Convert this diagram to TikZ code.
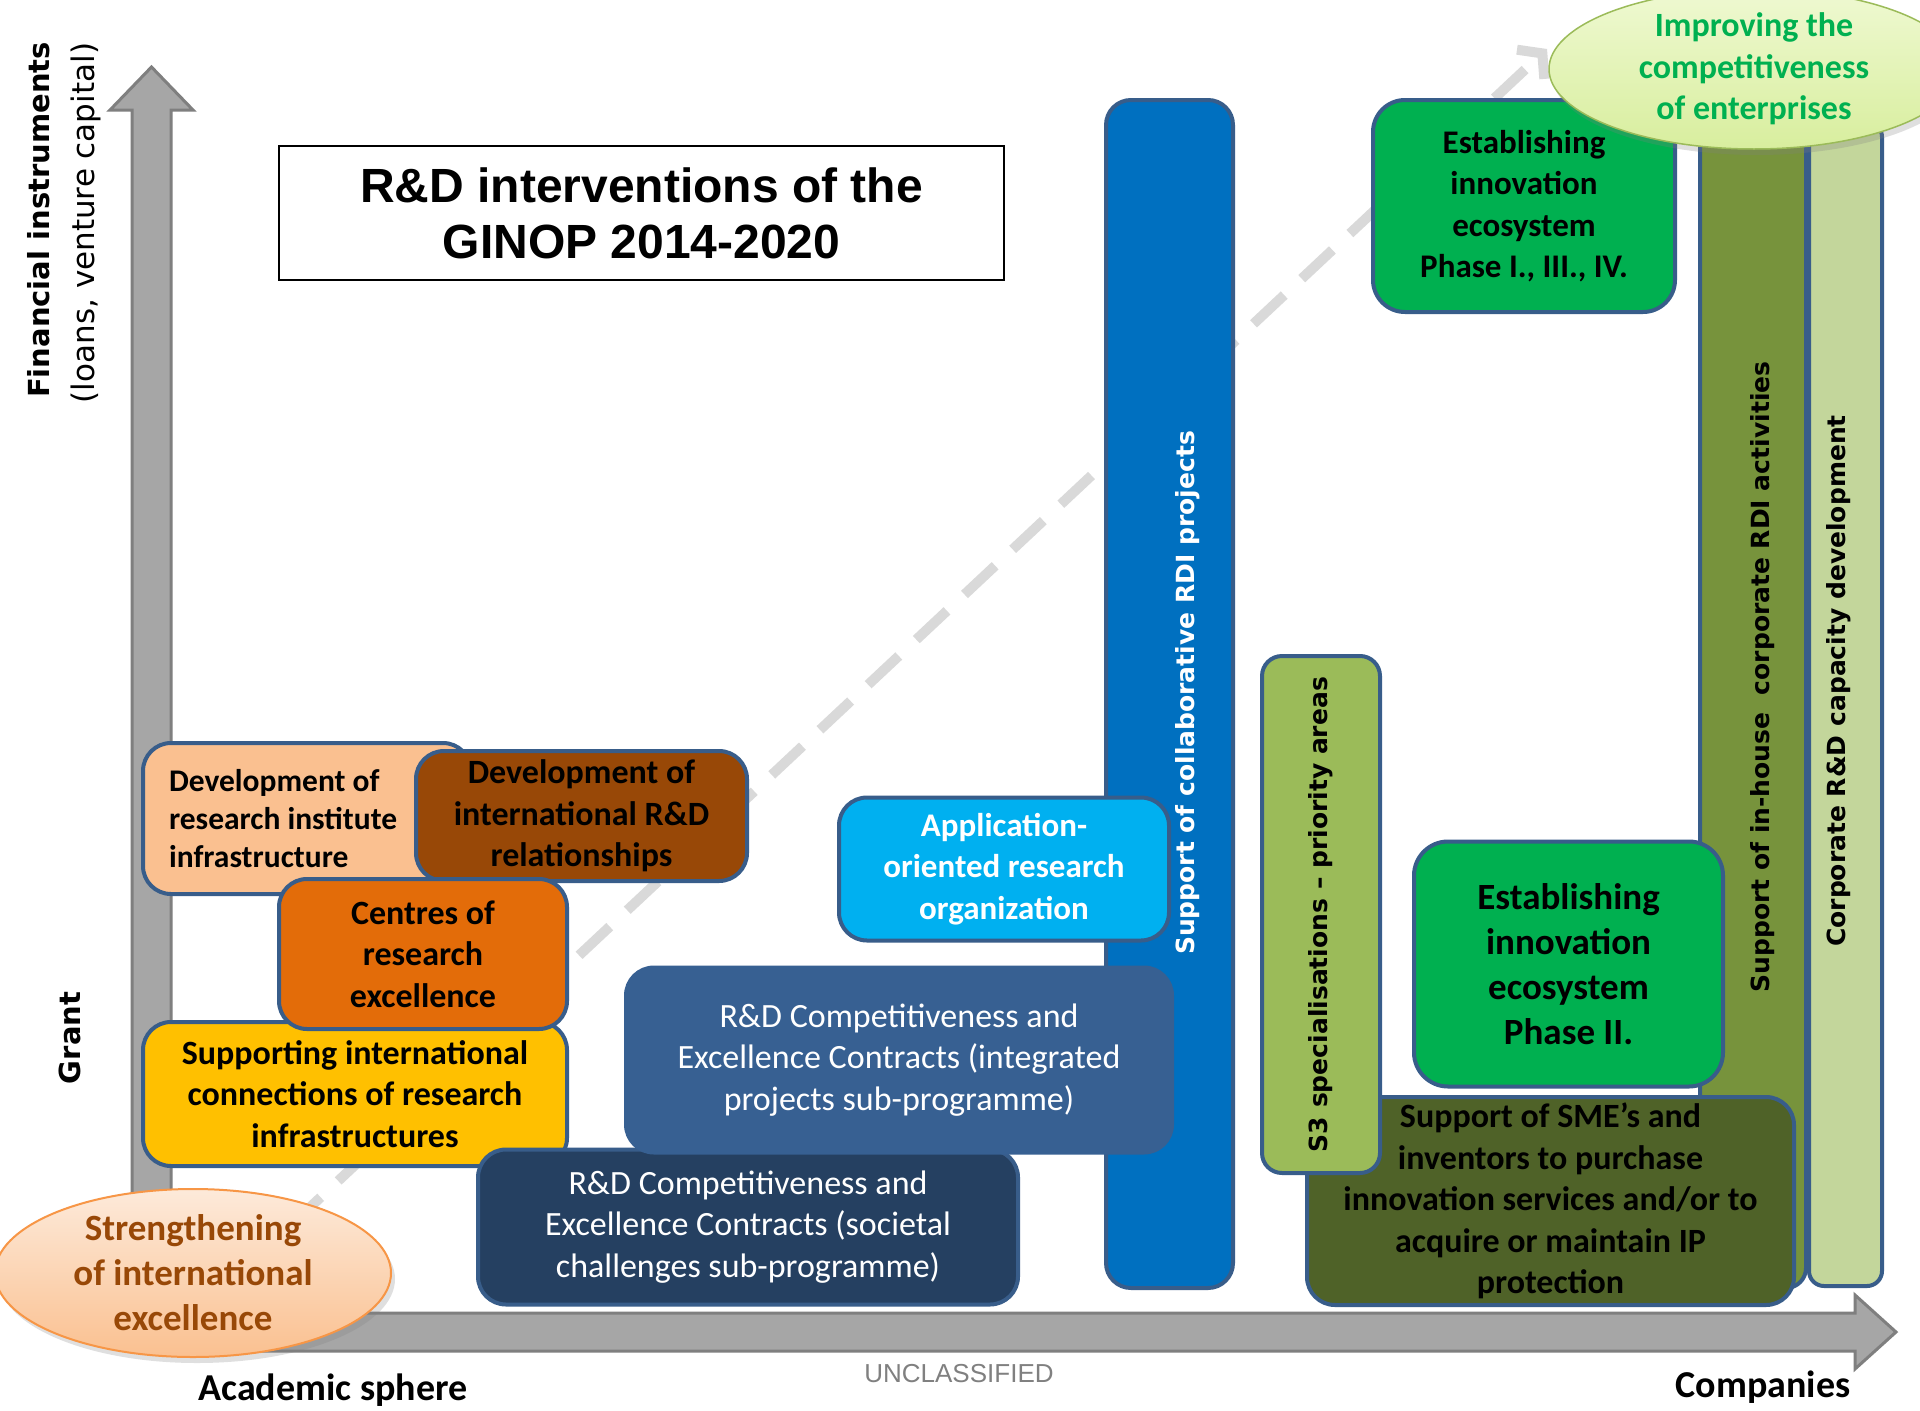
\documentclass[tikz,border=0pt]{standalone}
\usepackage{fontspec}
\setmainfont{Carlito}
\newfontfamily\arialf{Liberation Sans}
\newfontfamily\verd{DejaVu Sans}
\usetikzlibrary{arrows.meta,shapes.geometric,shadows}
\definecolor{bordc}{HTML}{385D8A}
\definecolor{peach}{HTML}{FAC090}
\definecolor{brownc}{HTML}{984807}
\definecolor{orangec}{HTML}{E36C09}
\definecolor{yellowc}{HTML}{FFC000}
\definecolor{integ}{HTML}{376092}
\definecolor{navyc}{HTML}{254061}
\definecolor{appc}{HTML}{00B0F0}
\definecolor{bluebar}{HTML}{0070C0}
\definecolor{sthree}{HTML}{9BBB59}
\definecolor{greenc}{HTML}{00B050}
\definecolor{smec}{HTML}{4F6228}
\definecolor{inhouse}{HTML}{77933C}
\definecolor{corpc}{HTML}{C3D69B}
\definecolor{axisfill}{HTML}{A6A6A6}
\definecolor{axisdraw}{HTML}{7F7F7F}
\definecolor{dashc}{HTML}{D9D9D9}
\definecolor{elltop}{HTML}{FDEADA}
\definecolor{ellbot}{HTML}{FAC090}
\definecolor{ellbord}{HTML}{F79646}
\definecolor{gtop}{HTML}{EFF9D2}
\definecolor{gbot}{HTML}{D8EE9E}
\definecolor{uncl}{HTML}{808080}
\begin{document}
\begin{tikzpicture}[x=1pt,y=-1pt,
  box/.style={draw=bordc, line width=4pt, rounded corners=28pt, align=center, inner sep=0pt, text=black},
  fa/.style={font=\fontsize{34}{41.5}\selectfont\bfseries},
  fn/.style={font=\fontsize{34}{41.5}\selectfont},
  rot/.style={rotate=90, inner sep=0pt, font=\verd\fontsize{25}{30}\selectfont\bfseries},
  axlab/.style={rotate=90, inner sep=0pt, font=\verd\fontsize{31}{36}\selectfont},
  bottomlab/.style={inner sep=0pt, font=\fontsize{38}{45}\selectfont\bfseries}]
\useasboundingbox[fill=white] (0,0) rectangle (1920,1411);

% axes
\filldraw[fill=axisfill, draw=axisdraw, line width=3pt, line join=miter]
  (132,1351) -- (132,110) -- (110,110) -- (151.5,67) -- (193,110) -- (171,110) -- (171,1313)
  -- (1855,1313) -- (1855,1295) -- (1896,1332) -- (1855,1369) -- (1855,1351) -- cycle;

% dashed trend arrow
\coordinate (dstart) at (290,1226);
\coordinate (dend) at (1547,49);
\draw[dashc, line width=10pt, dash pattern=on 42pt off 24pt, -{Straight Barb[length=16pt,width=40pt]}] (dstart) -- (dend);

% title
\node[draw=black, line width=2pt, minimum width=725pt, minimum height=134pt, align=center, inner sep=0pt,
  font=\arialf\fontsize{48}{56}\selectfont\bfseries] (title) at (641.5,213) {R\&D interventions of the\\GINOP 2014-2020};

% tall bars
\node[box, fill=bluebar, rounded corners=25pt, minimum width=127pt, minimum height=1188pt] (collab) at (1169.5,694) {};
\node[box, fill=inhouse, rounded corners=20pt, minimum width=106pt, minimum height=1166pt] (inh) at (1753,705) {};
\node[box, fill=corpc, rounded corners=15pt, minimum width=73pt, minimum height=1164pt] (corp) at (1845.5,704) {};
\node[rot, text=white] (collabT) at (1188,693) {Support of collaborative RDI projects};
\node[rot] (inhT) at (1763,677) {Support of in-house\ \ corporate RDI activities};
\node[rot] (corpT) at (1839,681) {Corporate R\&D capacity development};

% phase I box and ellipse
\node[box, fill=greenc, rounded corners=32pt, minimum width=302pt, minimum height=212pt, font=\fontsize{33}{41.5}\selectfont\bfseries] (ph1) at (1524,206)
  {Establishing\\innovation\\ecosystem\\Phase I., III., IV.};
\node[ellipse, draw=sthree, line width=1.5pt, top color=gtop, bottom color=gbot, minimum width=410pt, minimum height=160pt, inner sep=0pt,
  align=center, text=greenc, font=\fontsize{34}{41.5}\selectfont\bfseries,
  drop shadow={opacity=0.25, shadow xshift=3pt, shadow yshift=-6pt}] (impr) at (1754,69)
  {Improving the\\competitiveness\\of enterprises};

% academic side
\node[box, fill=peach, minimum height=151pt, text width=276pt, inner xsep=26pt, inner ysep=0pt, align=flush left,
  font=\fontsize{31.5}{38}\selectfont\bfseries] (resinst) at (307,818.5)
  {Development of\\research institute\\infrastructure};
\node[box, fill=brownc, fa, minimum width=331pt, minimum height=130pt] (intrd) at (581.5,816)
  {Development of\\international R\&D\\relationships};
\node[box, fill=yellowc, fa, minimum width=424pt, minimum height=144pt] (supint) at (355,1094)
  {Supporting international\\connections of research\\infrastructures};
\node[box, fill=orangec, fa, minimum width=288pt, minimum height=150pt] (centres) at (423,954)
  {Centres of\\research\\excellence};

% contracts
\node[box, fill=navyc, fn, text=white, minimum width=540pt, minimum height=155pt] (soc) at (748,1227)
  {R\&D Competitiveness and\\Excellence Contracts (societal\\challenges sub-programme)};
\node[box, draw=integ, fill=integ, fn, text=white, minimum width=546pt, minimum height=185pt] (integ) at (899,1060)
  {R\&D Competitiveness and\\Excellence Contracts (integrated\\projects sub-programme)};
\node[box, fill=appc, text=white, font=\fontsize{33}{41.5}\selectfont\bfseries, minimum width=330pt, minimum height=143pt] (app) at (1004,869)
  {Application-\\oriented research\\organization};

% company side
\node[box, fill=smec, fa, minimum width=487pt, minimum height=208pt] (sme) at (1550.5,1201)
  {Support of SME’s and\\inventors to purchase\\innovation services and/or to\\acquire or maintain IP\\protection};
\node[box, fill=greenc, rounded corners=34pt, font=\fontsize{37}{45}\selectfont\bfseries, minimum width=309pt, minimum height=245pt] (ph2) at (1568.5,964)
  {Establishing\\innovation\\ecosystem\\Phase II.};
\node[box, fill=sthree, rounded corners=20pt, rotate=90, minimum width=517pt, minimum height=118pt,
  font=\verd\fontsize{25}{30}\selectfont\bfseries] (s3) at (1321,914.5) {S3 specialisations – priority areas};

% strengthening ellipse
\node[ellipse, draw=ellbord, line width=2pt, top color=elltop, bottom color=ellbot, minimum width=396pt, minimum height=168pt, inner sep=0pt,
  align=center, text=brownc, font=\fontsize{37}{45}\selectfont\bfseries,
  drop shadow={opacity=0.25, shadow xshift=4pt, shadow yshift=-6pt}] (streng) at (193,1273)
  {Strengthening\\of international\\excellence};

% axis labels
\node[axlab, font=\verd\fontsize{29}{34}\selectfont\bfseries] (fin) at (39,220) {Financial instruments};
\node[axlab] (loans) at (86,223) {(loans, venture capital)};
\node[axlab, font=\verd\fontsize{29}{34}\selectfont\bfseries] (grant) at (70,1038) {Grant};
\node[bottomlab] (acad) at (333,1390) {Academic sphere};
\node[bottomlab] (comp) at (1763,1387) {Companies};
\node[inner sep=0pt, text=uncl, font=\arialf\fontsize{26}{30}\selectfont] (unc) at (959,1374) {UNCLASSIFIED};
\end{tikzpicture}
\end{document}
